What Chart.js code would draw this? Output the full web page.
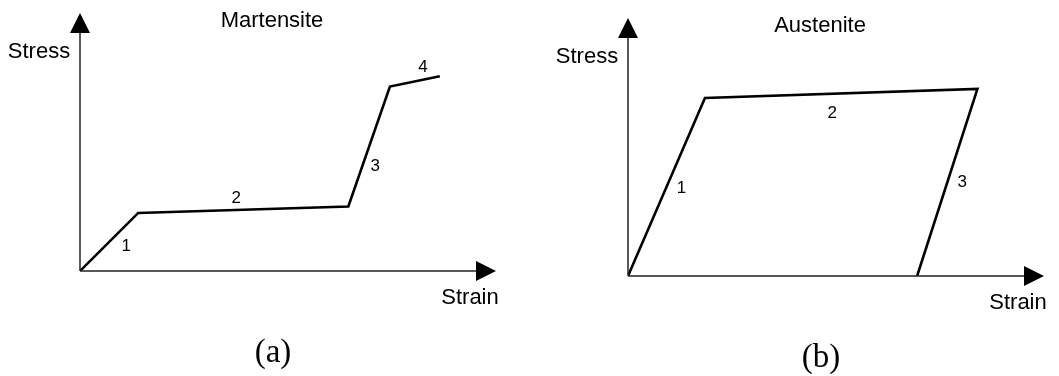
<!DOCTYPE html>
<html>
<head>
<meta charset="utf-8">
<title>Stress-strain curves</title>
<script src="https://cdn.jsdelivr.net/npm/chart.js@4.4.1/dist/chart.umd.min.js"></script>
<style>
  body { margin: 0; background: #fff; }
  #wrap { position: relative; width: 1059px; height: 376px; }
  .panel { position: absolute; top: 0; }
  #panelA { left: 0; }
  #panelB { left: 530px; }
</style>
</head>
<body>
<div id="wrap">
  <div class="panel" id="panelA"><canvas id="martensiteChart" width="530" height="376"></canvas></div>
  <div class="panel" id="panelB"><canvas id="austeniteChart" width="529" height="376"></canvas></div>
</div>
<script>
// Martensite curve (arbitrary units)
const martensiteStrain = [0, 1.4, 6.45, 7.45, 8.65];
const martensiteStress = [0, 2.25, 2.5, 7.15, 7.55];
const martensiteSegments = ['1', '2', '3', '4'];

// Austenite loop (arbitrary units)
const austeniteStrain = [0, 1.85, 8.4, 6.95];
const austeniteStress = [0, 6.9, 7.25, 0];
const austeniteSegments = ['1', '2', '3'];

const axisMax = 10;
const sansFont = '"Liberation Sans", Arial, Helvetica, sans-serif';
const serifFont = '"Liberation Serif", "DejaVu Serif", serif';

// draws the arrowed axes plus all the text around the curve
const sketchPlugin = {
    id: 'sketch',
    afterDatasetsDraw(chart, args, opts) {
        const ctx = chart.ctx;
        const xs = chart.scales.x;
        const ys = chart.scales.y;
        const x0 = xs.getPixelForValue(0);
        const y0 = ys.getPixelForValue(0);
        const xTip = xs.getPixelForValue(axisMax);
        const yTip = ys.getPixelForValue(axisMax);
        const head = 20, half = 10;

        ctx.save();
        ctx.strokeStyle = '#222';
        ctx.fillStyle = '#000';
        ctx.lineWidth = 1.5;

        ctx.beginPath();
        ctx.moveTo(x0, y0);
        ctx.lineTo(x0, yTip + head);
        ctx.moveTo(x0, y0);
        ctx.lineTo(xTip - head, y0);
        ctx.stroke();

        // arrow heads
        ctx.beginPath();
        ctx.moveTo(x0, yTip);
        ctx.lineTo(x0 - half, yTip + head);
        ctx.lineTo(x0 + half, yTip + head);
        ctx.closePath();
        ctx.fill();

        ctx.beginPath();
        ctx.moveTo(xTip, y0);
        ctx.lineTo(xTip - head, y0 - half);
        ctx.lineTo(xTip - head, y0 + half);
        ctx.closePath();
        ctx.fill();

        ctx.textAlign = 'center';
        ctx.textBaseline = 'middle';

        ctx.font = '22px ' + sansFont;
        ctx.fillText(opts.title, x0 + 192, yTip + 8);
        ctx.fillText('Stress', x0 - 41, yTip + 39);
        ctx.fillText('Strain', xTip - 26, y0 + 27);

        // segment numbers next to each piece of the curve
        ctx.font = '17px ' + sansFont;
        const pts = chart.getDatasetMeta(0).data;
        opts.segments.forEach((label, i) => {
            const a = pts[i], b = pts[i + 1];
            const off = opts.offsets[i];
            ctx.fillText(label, (a.x + b.x) / 2 + off[0], (a.y + b.y) / 2 + off[1]);
        });

        ctx.font = '33px ' + serifFont;
        ctx.fillText(opts.caption, x0 + 193, y0 + 82);
        ctx.restore();
    }
};

function makeChart(canvasId, strain, stress, padding, sketch) {
    const points = strain.map((x, i) => ({ x: x, y: stress[i] }));
    return new Chart(document.getElementById(canvasId), {
        type: 'scatter',
        data: {
            datasets: [{
                data: points,
                showLine: true,
                borderColor: '#000',
                borderWidth: 2.6,
                borderJoinStyle: 'miter',
                pointRadius: 0,
                fill: false,
                tension: 0
            }]
        },
        options: {
            responsive: false,
            animation: false,
            layout: { padding: padding },
            scales: {
                x: { type: 'linear', min: 0, max: axisMax, display: false },
                y: { type: 'linear', min: 0, max: axisMax, display: false }
            },
            plugins: {
                legend: { display: false },
                tooltip: { enabled: false },
                sketch: sketch
            }
        },
        plugins: [sketchPlugin]
    });
}

makeChart('martensiteChart', martensiteStrain, martensiteStress,
    { left: 80, right: 34, top: 13, bottom: 105 },
    {
        title: 'Martensite',
        caption: '(a)',
        segments: martensiteSegments,
        offsets: [[17, 4], [-7, -11], [6, 20], [8, -14]]
    });

makeChart('austeniteChart', austeniteStrain, austeniteStress,
    { left: 98, right: 15, top: 18, bottom: 100 },
    {
        title: 'Austenite',
        caption: '(b)',
        segments: austeniteSegments,
        offsets: [[15, 1], [-9, 20], [15, 0]]
    });
</script>
</body>
</html>
